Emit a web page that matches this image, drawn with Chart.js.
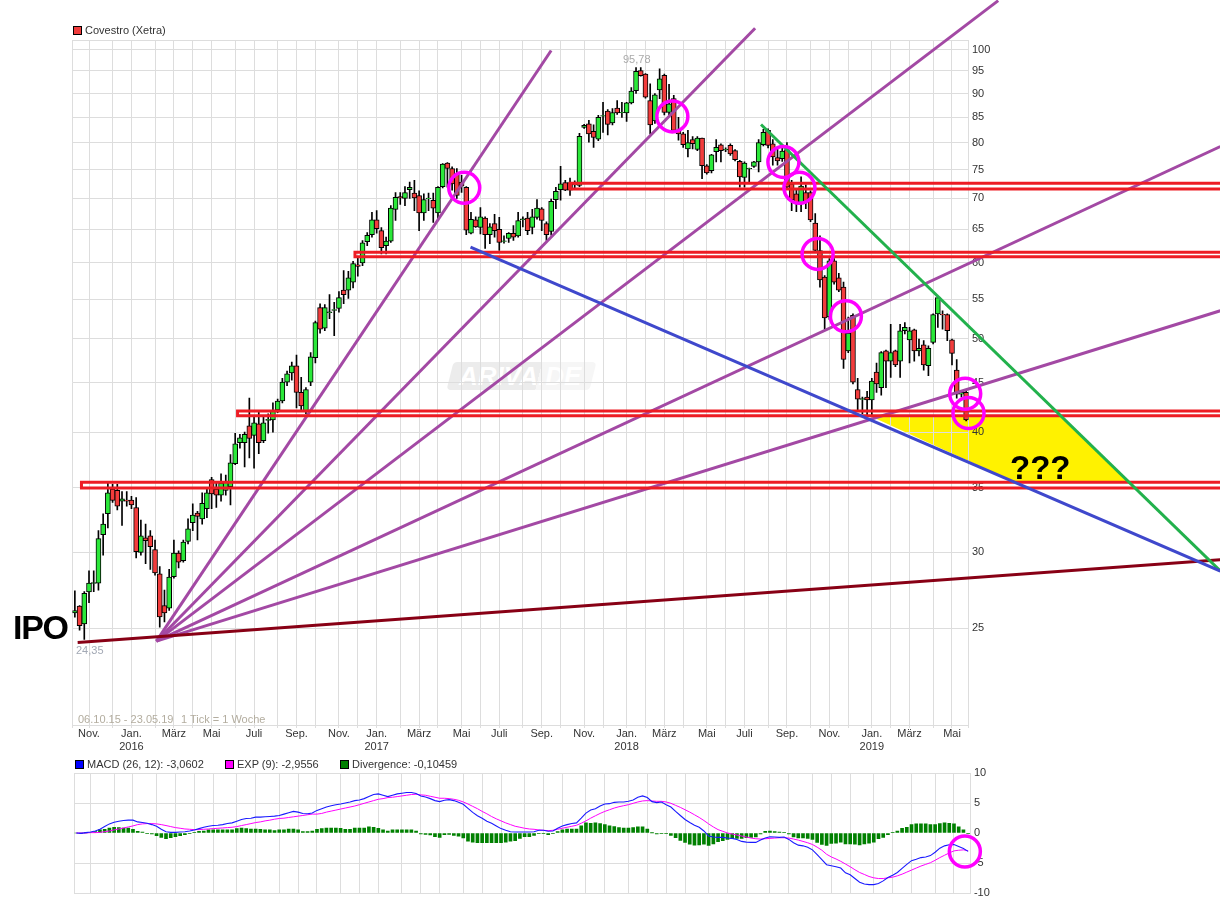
<!DOCTYPE html>
<html><head><meta charset="utf-8"><title>Covestro (Xetra)</title>
<script src="https://cdn.jsdelivr.net/npm/chart.js@4"></script>
<style>
html,body{margin:0;padding:0;background:#fff;width:1220px;height:914px;overflow:hidden;font-family:"Liberation Sans",Arial,sans-serif}
canvas{position:absolute;left:0;z-index:1}
.t{position:absolute;z-index:2;font-size:11px;line-height:13px;color:#333;white-space:nowrap}
.sq{position:absolute;z-index:2;width:7px;height:7px;border:1px solid #000}
#wm{position:absolute;z-index:0;left:450px;top:362px;width:143px;height:28px;transform:skewX(-14deg);border-radius:4px;background:linear-gradient(90deg,#ececec 0,#ececec 62%,#f6f6f6 62%,#f6f6f6 100%)}
#wmt{position:absolute;z-index:0;left:459px;top:361px;font:italic bold 26px/30px "Liberation Sans",sans-serif;color:#fff}
</style></head><body>
<div id="wm"></div><div id="wmt">ARIVA.DE</div>
<canvas id="main" width="1220" height="760" style="top:0"></canvas>
<canvas id="sub" width="1220" height="158" style="top:754px"></canvas>
<div class="sq" style="left:73px;top:26px;background:#f03c3c"></div>
<div class="t" style="left:85px;top:24px">Covestro (Xetra)</div>
<div class="t" style="left:623px;top:53px;color:#aaa">95,78</div>
<div class="t" style="left:76px;top:644px;color:#a3a9b5">24,35</div>
<div class="t" style="left:78px;top:713px;color:#b3ad9f">06.10.15 - 23.05.19</div>
<div class="t" style="left:181px;top:713px;color:#b3ad9f">1 Tick = 1 Woche</div>
<div class="t" style="left:13px;top:608px;font:bold 34px/38px 'Liberation Sans',sans-serif;color:#000;letter-spacing:-1.3px">IPO</div>
<div class="t" style="left:1010px;top:449px;font:bold 33px/38px 'Liberation Sans',sans-serif;color:#000">???</div>
<div class="sq" style="left:75px;top:760px;background:#0000ff"></div>
<div class="t" style="left:87px;top:758px">MACD (26, 12): -3,0602</div>
<div class="sq" style="left:225px;top:760px;background:#ff00ff"></div>
<div class="t" style="left:237px;top:758px">EXP (9): -2,9556</div>
<div class="sq" style="left:340px;top:760px;background:#008000"></div>
<div class="t" style="left:352px;top:758px">Divergence: -0,10459</div>
<script>
const opens=[25.95,26.37,25.28,27.28,27.85,27.87,31.3,32.9,34.9,34.8,33.9,34,34,33.4,30,31.06,31.2,30.2,28.5,26.4,26.25,28.3,29.94,29.4,30.8,32.2,32.95,32.5,33.3,35.7,34.9,34.4,34.8,35.1,37.1,39,39,40.6,39.7,40.8,39.2,41.15,41.2,42.2,43.1,45.1,46.1,46.9,44,42,45.1,47.8,53.9,51.3,53.25,53.55,53.8,56.2,56.2,57.3,59.7,60,63.1,64.2,66.5,64.8,62.5,63.2,68.2,70.3,70,71.5,70.9,70.5,67.6,69.95,69.7,67.6,72,76.2,75.2,74.2,72.8,71.9,64.4,66.5,65.3,66.8,64.2,65.9,65,63.15,63.6,64.4,64,66.55,66.8,65.3,66.9,68.3,65.9,64.7,69.8,71.5,72.7,72.7,72.5,72.2,83,83.7,82.2,80.7,85.25,86.3,83.9,86.9,85.95,85.9,88,90.6,95.1,94.3,88.5,84.3,90.8,94,86,88.9,82.2,81.7,78.8,80.6,78.7,80.9,75.7,74.8,78.3,79.6,78.65,79.5,78.5,76.5,73.6,75.15,75.6,76.4,79.6,82.4,79.8,77.2,77,78.7,72.5,70.8,69.3,71,71,66,61.8,58,52.7,60.3,57.9,56.6,48.6,52.9,44.3,43.25,43.5,43.2,46.2,44.5,48.6,47.4,48.6,47.4,51,49.9,51.1,48.6,49.3,46.9,49.6,53.1,53.05,53,49.9,46.4,43.8,44];
const closes=[26.1,25.16,27.2,27.87,27.9,31,32.1,34.6,33.97,33.5,34.1,33.9,33.6,30.04,31.2,30.85,30.4,28.55,25.7,25.95,28.27,29.94,29.3,30.74,31.74,32.8,32.7,33.74,34.6,34.5,34.4,35.4,35.5,37.17,38.9,39.47,39.8,39.4,40.9,39,40.9,41.25,42.1,43.1,45.1,46,46.9,44,42.6,44.3,47.9,52,51.2,53.9,53.35,53.65,55.2,55.6,57.9,59.9,59.5,62.95,64.1,66.5,65.1,62.2,63.2,68.4,70.2,70.1,71,71.9,70.1,67.6,69.8,70.05,68.4,71.9,76,75.2,72.5,70.5,72.1,64.9,66.6,65.4,67,64.2,65.4,64.8,63,63.25,64.4,63.8,66.4,66.65,64.8,67,68.4,66.4,64.2,69.5,71.2,72.5,71.4,71.4,72.3,81.25,83.4,81.7,81,85,85.35,83.6,86,85.9,86.05,88,90.5,94.9,93.9,89.2,83.5,89.7,93.2,86,87.8,82.4,81.7,79.6,80,79.8,80.9,75.7,74.4,77.7,79.1,78.5,78.75,77.9,76.8,73.7,76.2,75.25,76.4,80,82,79.5,77.3,76.6,78.4,71.9,69.7,69.1,72.1,69.4,66.5,61.8,57.6,52.6,60.3,57.3,56.2,47.6,50.7,45.1,43.3,43.35,43.2,45.2,44.9,48.4,47.4,48.4,47,51,51.4,51,48.6,48.9,47,48.9,53,55.2,52.95,51,48.3,43.8,44,41.2];
const highs=[27.35,26.4,27.3,28.7,28.7,31.6,32.9,35.4,35.3,35.3,34.7,34.7,34.3,34.2,32.4,32.1,31.6,30.9,29,27.4,28.8,30.9,30.1,30.9,32.5,33.7,33.1,34.6,34.9,35.9,35.4,36.2,36.1,37.9,39.9,39.8,40,43.4,41.6,42.1,41.5,41.8,42.9,43.3,45.5,46.3,47.3,48.1,45.6,44.5,48.4,52.2,54.4,54.3,55.6,54.6,56,58.9,58.8,60.2,60.7,63.3,64.5,67.7,68,65.3,63.8,68.8,71,71,72,72.8,73.1,71.3,70.8,70.9,70.9,72,76.1,76.3,75.5,75.2,74,72,67.7,67,68.5,67,65.9,67.4,66.9,64,64.5,65.6,67.7,67,67.7,68.2,69.8,68.5,66.2,69.9,71.9,75.6,73.1,73.5,73,81.8,83.6,84.4,83.5,85.4,88.1,86.6,86.8,88.5,88.1,88.1,91.3,95.78,95.78,94.4,92.1,90,95.5,94.3,92,89.6,85,82,82.4,81.2,81.2,80.9,75.9,77.8,80.6,79.8,79,79.8,78.7,76.7,76.4,75.3,76.5,80.6,82.6,82.7,80.6,79.1,79,80,73.1,71.5,73.7,72.3,71.3,67.5,64,58.2,60.6,60.6,58.5,57.3,52.7,53.1,45.5,43.5,44.1,45.5,47.2,48.5,48.7,51.8,48.7,51.8,52,51.4,51.2,50,49.8,49.2,53.1,55.3,53.5,53.1,50,47.6,44.2,44.2];
const lows=[25.68,24.9,24.35,26.6,27.3,27.4,29.8,31.8,33.8,33.2,32,33.5,33.3,29.6,29.8,29.2,28.8,28.4,25.08,25.4,26.1,28.2,28.9,29.3,30.6,31.6,30.9,32.1,32.6,33.3,33.4,33.9,34.4,33.6,37,38.5,36.8,37.6,36.7,38,39,39.9,40,41.9,42.9,44.7,45.3,42.4,42,41.8,44.7,47.2,50.7,51,52.5,50.4,53.3,54.4,55.1,56.5,58.1,59.6,62.5,63.8,64.4,61.3,61.3,63,66.4,69,68.8,70,68,64.8,66.4,68,66.1,66.7,71.8,71.9,71.4,70,71,64.2,64.3,65.3,64.3,62.1,62.8,63.8,61.8,62.9,63,63.3,63.8,65.4,64.2,64.3,66.6,64.8,63.3,64.1,68.3,69.7,71.3,70.5,71.5,72,82.8,80.1,79.1,80.4,82,81.5,83.5,85.6,85,84.2,87.8,90,93.8,89,81.7,83.8,88.9,85.5,85.5,82.2,80.5,79.1,77.3,78.8,78.5,73.4,74.2,74.4,76.4,76.4,78.3,77.6,76.6,71.9,71.9,72.8,75.4,74.6,79.4,79,75.8,75.8,76.5,71.5,68,67.8,67.8,68.3,66.2,61.5,56.6,51.2,52.4,57,56,46.6,48.4,44.9,42.1,41.8,41.5,41.7,44,43.7,44.5,45.6,46.8,45.6,50.6,47.2,47.4,48,46.4,45.8,49.4,51.4,51.2,49.8,47,43.4,43.5,41.1];
const macd=[0,-0.06,0.06,0.17,0.34,0.62,1.07,1.52,1.8,1.97,2.08,2.14,2.14,1.85,1.74,1.63,1.4,1.12,0.62,0.22,0.11,0.11,0.17,0.22,0.34,0.51,0.73,0.96,1.12,1.24,1.29,1.4,1.57,1.69,1.97,2.25,2.42,2.47,2.64,2.64,2.7,2.75,2.81,2.92,3.15,3.37,3.6,3.48,3.26,3.2,3.32,3.77,4.05,4.33,4.55,4.72,4.83,5,5.17,5.4,5.51,5.73,6.07,6.41,6.52,6.29,6.07,6.29,6.52,6.63,6.74,6.74,6.58,6.18,6.01,5.73,5.4,5.23,5.45,5.56,5.4,5.11,4.78,4.1,3.43,2.87,2.47,1.97,1.63,1.18,0.73,0.45,0.22,0.17,0.17,0.17,0.17,0.22,0.45,0.45,0.28,0.34,0.79,1.18,1.4,1.57,1.69,2.47,3.32,3.82,4.05,4.5,4.83,4.89,5.11,5.17,5.17,5.28,5.51,5.96,6.18,5.9,5.23,5.06,5.17,4.72,4.33,3.6,2.92,2.25,1.74,1.29,0.96,0.34,-0.51,-0.67,-0.73,-0.73,-0.84,-0.9,-1.07,-1.4,-1.52,-1.57,-1.57,-1.18,-0.84,-0.62,-0.67,-0.73,-0.67,-1.07,-1.63,-2.02,-2.14,-2.36,-2.81,-3.6,-4.44,-5.28,-5.45,-5.62,-5.84,-6.63,-6.97,-7.59,-8.2,-8.49,-8.6,-8.6,-8.43,-7.98,-7.42,-7.03,-6.58,-5.9,-5.23,-4.61,-4.38,-4.1,-3.99,-3.77,-3.2,-2.53,-2.14,-1.97,-1.91,-2.25,-2.59,-3.06];
const expo=[0,0,0,0.06,0.06,0.11,0.22,0.34,0.51,0.67,0.84,1.01,1.18,1.4,1.52,1.57,1.57,1.52,1.4,1.24,1.07,0.9,0.79,0.67,0.62,0.56,0.56,0.62,0.67,0.73,0.79,0.84,0.9,0.96,1.07,1.24,1.4,1.57,1.74,1.85,2.02,2.14,2.3,2.42,2.47,2.59,2.7,2.81,2.92,3.04,3.15,3.15,3.26,3.48,3.65,3.82,3.99,4.16,4.33,4.5,4.72,4.95,5.17,5.4,5.62,5.73,5.9,5.96,6.07,6.18,6.29,6.41,6.46,6.35,6.29,6.12,5.96,5.79,5.79,5.73,5.62,5.45,5.17,4.83,4.44,4.05,3.6,3.2,2.75,2.36,2.02,1.68,1.4,1.12,0.96,0.79,0.67,0.62,0.51,0.45,0.39,0.45,0.62,0.79,0.96,1.12,1.29,1.63,2.02,2.47,2.87,3.26,3.6,3.88,4.16,4.38,4.55,4.72,4.95,5.17,5.34,5.4,5.34,5.28,5.28,5.17,4.95,4.61,4.27,3.88,3.48,3.04,2.59,2.08,1.52,1.01,0.56,0.28,0,-0.17,-0.34,-0.51,-0.67,-0.84,-0.96,-1.01,-0.96,-0.9,-0.84,-0.79,-0.79,-0.84,-1.01,-1.18,-1.4,-1.63,-1.91,-2.36,-2.87,-3.54,-3.99,-4.33,-4.72,-5.17,-5.62,-6.12,-6.58,-6.91,-7.25,-7.47,-7.59,-7.59,-7.47,-7.36,-7.14,-6.86,-6.52,-6.18,-5.84,-5.51,-5.23,-4.95,-4.55,-4.1,-3.71,-3.32,-2.98,-2.87,-2.81,-2.96];
const divergence=[0,-0.02,0.03,0.08,0.25,0.51,0.62,0.84,0.96,0.9,0.84,0.84,0.62,0.28,0.17,-0.06,-0.17,-0.45,-0.73,-0.96,-0.79,-0.62,-0.45,-0.28,-0.11,0.11,0.28,0.34,0.51,0.51,0.51,0.51,0.51,0.51,0.73,0.84,0.73,0.67,0.67,0.62,0.51,0.51,0.39,0.51,0.51,0.67,0.67,0.51,0.22,0.22,0.34,0.62,0.73,0.84,0.84,0.84,0.79,0.62,0.62,0.84,0.84,0.84,1.01,0.96,0.79,0.51,0.34,0.51,0.51,0.51,0.51,0.51,0.34,-0.17,-0.22,-0.34,-0.62,-0.73,-0.28,-0.22,-0.39,-0.51,-0.84,-1.35,-1.52,-1.63,-1.63,-1.63,-1.63,-1.63,-1.63,-1.52,-1.35,-1.29,-0.9,-0.62,-0.62,-0.39,-0.06,-0.06,-0.28,-0.06,0.22,0.51,0.67,0.67,0.67,1.18,1.69,1.63,1.69,1.57,1.4,1.18,1.07,0.9,0.84,0.84,0.9,1.01,1.01,0.67,0.02,-0.17,-0.06,-0.11,-0.39,-0.79,-1.24,-1.57,-1.85,-2.02,-1.97,-1.85,-2.08,-1.8,-1.46,-1.29,-1.07,-0.96,-0.9,-0.9,-0.79,-0.73,-0.67,-0.17,0.28,0.34,0.22,0.17,0.11,-0.17,-0.67,-0.84,-0.84,-0.9,-1.07,-1.57,-1.91,-2.08,-1.74,-1.68,-1.52,-1.8,-1.8,-1.85,-1.97,-1.8,-1.68,-1.52,-0.96,-0.73,-0.28,0.06,0.34,0.79,0.96,1.4,1.52,1.52,1.52,1.4,1.4,1.57,1.69,1.63,1.52,1.01,0.51,-0.1];
const priceTicks=[100,95,90,85,80,75,70,65,60,55,50,45,40,35,30,25];
const macdTicks=[10,5,0,-5,-10];
const monthWeeks=[3,8,12,17,21,25,29,34,38,43,47,51,56,60,64,69,73,77,82,86,90,95,99,103,108,112,117,121,125,129,134,138,142,147,151,156,160,164,169,173,177,182,186];
const monthLabels={3:'Nov.',12:['Jan.','2016'],21:'März',29:'Mai',38:'Juli',47:'Sep.',56:'Nov.',64:['Jan.','2017'],73:'März',82:'Mai',90:'Juli',99:'Sep.',108:'Nov.',117:['Jan.','2018'],125:'März',134:'Mai',142:'Juli',151:'Sep.',160:'Nov.',169:['Jan.','2019'],177:'März',186:'Mai'};
const WEEK_MIN=-0.5, WEEK_MAX=189.5, PRICE_MIN=19.84, PRICE_MAX=102.3;
// annotations drawn on the chart: [week, price]
const fanLines=[[[17.3,24.25],[101,99.76]],[[17.3,24.25],[144.25,105.2]],[[17.3,24.25],[195.8,112.4]],[[17.3,24.25],[242.9,79.27]],[[17.3,24.25],[242.9,53.5]]];
const baseLine=[[0.6,24.18],[242.9,29.47]];
const blueLine=[[83.9,62.3],[242.9,28.68]];
const greenLine=[[145.5,83.56],[242.9,28.7]];
const bands=[[1.4,35.49,35.0],[34.5,42.07,41.6],[59.4,61.55,60.88],[105,72.6,71.6]];
const BAND_END=244;
const circles=[[82.57,71.8],[126.7,85.2],[150.25,76.4],[153.65,71.8],[157.5,61.3],[163.5,52.8],[188.8,43.85],[189.5,41.87]];
const macdCircle=[[188.3,-3.08]];
const yellowZone=[[169.1,41.49],[209,41.49],[223.3,35.55],[199,35.55]];

const FONT={family:'"Liberation Sans",Arial,sans-serif',size:11,lineHeight:1.2};
const weeks=opens.map((_,i)=>i);
const pts=a=>a.map(p=>({x:p[0],y:p[1]}));
const line=(data,color,order,w)=>({type:'line',data:pts(data),borderColor:color,borderWidth:w||3,pointRadius:0,tension:0,clip:false,order,fill:false,borderJoinStyle:'miter'});
const ring=(data,order)=>({type:'line',data:pts(data),showLine:false,clip:false,order,pointStyle:'circle',pointRadius:15.5,pointBorderWidth:3.5,pointBorderColor:'#ff00ff',pointBackgroundColor:'rgba(0,0,0,0)'});
const xTicks=[WEEK_MIN,...monthWeeks,WEEK_MAX];
const gridC='#dddddd';

const yellowPlugin={id:'yellowZone',beforeDraw(c){
  const {x,y}=c.scales,g=c.ctx;g.save();g.fillStyle='#fff200';g.beginPath();
  yellowZone.forEach((p,i)=>{const a=x.getPixelForValue(p[0]),b=y.getPixelForValue(p[1]);i?g.lineTo(a,b):g.moveTo(a,b);});
  g.closePath();g.fill();g.restore();
}};

new Chart(document.getElementById('main'),{
  type:'bar',
  plugins:[yellowPlugin],
  data:{datasets:[
    {type:'bar',grouped:false,data:weeks.map(i=>({x:i,y:[lows[i],highs[i]]})),backgroundColor:'#000',barThickness:1,borderWidth:0,order:21},
    {type:'bar',grouped:false,data:weeks.map(i=>({x:i,y:[opens[i],closes[i]]})),
      backgroundColor:weeks.map(i=>closes[i]>=opens[i]?'#2be83a':'#f23c3c'),borderColor:'#000',borderWidth:1,borderSkipped:false,barThickness:5,order:20},
    ...fanLines.map(l=>line(l,'#a349a4',6)),
    ...bands.map(b=>line([[BAND_END,b[1]],[b[0],b[1]],[b[0],b[2]],[BAND_END,b[2]]],'#ed1c24',5)),
    line(baseLine,'#880015',4),
    line(blueLine,'#3f48cc',3),
    line(greenLine,'#22b14c',3),
    ring(circles,1)
  ]},
  options:{
    responsive:false,animation:false,devicePixelRatio:1,events:[],
    layout:{padding:{left:72.5,top:40,right:221.5,bottom:2}},
    plugins:{legend:{display:false},tooltip:{enabled:false}},
    scales:{
      x:{type:'linear',min:WEEK_MIN,max:WEEK_MAX,offset:false,
        grid:{color:gridC,lineWidth:1,offset:false,tickLength:3,drawTicks:true},border:{display:false},
        afterBuildTicks:s=>{s.ticks=xTicks.map(value=>({value}));},
        afterFit:s=>{s.height=33;},
        ticks:{autoSkip:false,maxRotation:0,minRotation:0,padding:-1,color:'#333',font:FONT,callback:v=>monthLabels[v]||''}},
      y:{type:'logarithmic',position:'right',min:PRICE_MIN,max:PRICE_MAX,
        grid:{color:gridC,lineWidth:1,drawTicks:false},border:{display:false},
        afterBuildTicks:s=>{s.ticks=[PRICE_MAX,...priceTicks,PRICE_MIN].map(value=>({value}));},
        afterFit:s=>{s.width=30;},
        ticks:{autoSkip:false,padding:3.4,color:'#333',font:FONT,callback:v=>priceTicks.includes(v)?String(v):''}}
    }
  }
});

new Chart(document.getElementById('sub'),{
  type:'bar',
  data:{datasets:[
    {type:'bar',data:weeks.map(i=>({x:i,y:divergence[i]})),backgroundColor:'#008000',barThickness:3,borderWidth:0,order:5},
    {type:'line',data:weeks.map(i=>({x:i,y:expo[i]})),borderColor:'#ff00ff',borderWidth:1,pointRadius:0,tension:0,order:3},
    {type:'line',data:weeks.map(i=>({x:i,y:macd[i]})),borderColor:'#1a1aff',borderWidth:1.1,pointRadius:0,tension:0,order:2},
    ring(macdCircle,1)
  ]},
  options:{
    responsive:false,animation:false,devicePixelRatio:1,events:[],
    layout:{padding:{left:74,top:7.5,right:219.5,bottom:12.5}},
    plugins:{legend:{display:false},tooltip:{enabled:false}},
    scales:{
      x:{type:'linear',min:WEEK_MIN,max:WEEK_MAX,offset:false,
        grid:{color:gridC,lineWidth:1,offset:false,tickLength:3,drawTicks:false},border:{display:false},
        afterBuildTicks:s=>{s.ticks=xTicks.map(value=>({value}));},
        afterFit:s=>{s.height=3;},
        ticks:{display:false,autoSkip:false}},
      y:{type:'linear',position:'right',min:-10,max:10,
        grid:{color:c=>c.tick&&c.tick.value===0?'rgba(0,0,0,0)':gridC,lineWidth:1,drawTicks:false},border:{display:false},
        afterBuildTicks:s=>{s.ticks=macdTicks.map(value=>({value}));},
        afterFit:s=>{s.width=30;},
        ticks:{autoSkip:false,padding:3.4,color:'#333',font:FONT,callback:v=>String(v)}}
    }
  }
});
</script>
</body></html>
